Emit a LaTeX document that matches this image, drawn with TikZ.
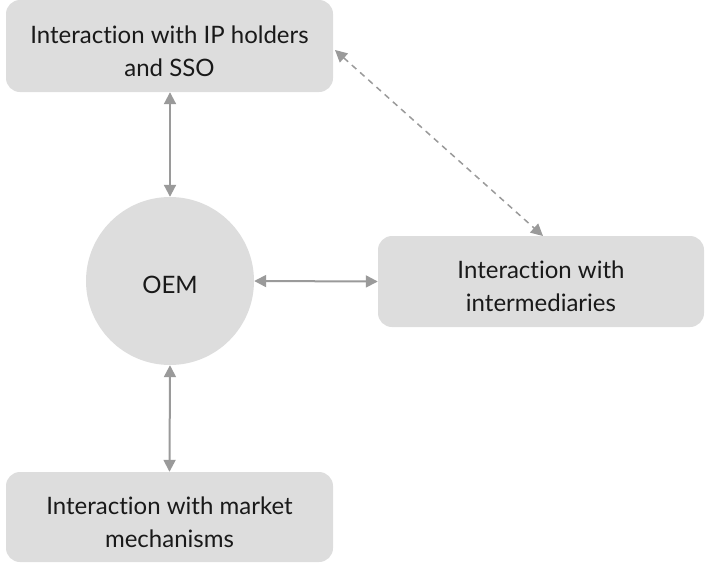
\documentclass[tikz,border=0pt]{standalone}
\usepackage{fontspec}
\setmainfont{Lato}[Ligatures=NoCommon]
\usetikzlibrary{arrows.meta}
\definecolor{boxgray}{HTML}{DDDDDD}
\definecolor{linkgray}{HTML}{9A9A9A}
\begin{document}
\begin{tikzpicture}[x=1pt,y=-1pt,
  panel/.style={fill=boxgray, rounded corners=14pt, inner sep=0pt},
  caption/.style={align=center, font=\fontsize{24}{33}\selectfont,
    text=black!90, inner sep=0pt, yshift=-5pt},
  link/.style={draw=linkgray, line width=2pt,
    {Triangle[length=12pt,width=12pt]}-{Triangle[length=12pt,width=12pt]}},
]
\useasboundingbox (0,0) rectangle (705,563);
% rounded panels
\node[panel, minimum width=327pt, minimum height=92pt] (ip) at (169.5,46) {};
\node[panel, minimum width=326pt, minimum height=91pt] (im) at (541,281.5) {};
\node[panel, minimum width=327pt, minimum height=90pt] (mk) at (169.5,517) {};
\node[circle, fill=boxgray, minimum size=168pt, inner sep=0pt] (oem) at (170,281) {};
% panel texts
\node[caption] (ipt) at (ip.center) {Interaction with IP holders\\and SSO};
\node[caption] (imt) at (im.center) {Interaction with\\intermediaries};
\node[caption] (mkt) at (mk.center) {Interaction with market\\mechanisms};
\node[caption, yshift=1pt] (oemt) at (oem.center) {OEM};
% connectors
\coordinate (a1) at (ip.south -| oem.north);
\draw[link] (a1) -- (oem.north);
\draw[link] (oem.east) -- (im.west);
\draw[link] (oem.south) -- (mk.north);
\coordinate (d1) at (335,50);
\coordinate (d2) at (543,236);
\draw[link, line width=1.5pt, dash pattern=on 6pt off 5pt] (d1) -- (d2);
\end{tikzpicture}
\end{document}
